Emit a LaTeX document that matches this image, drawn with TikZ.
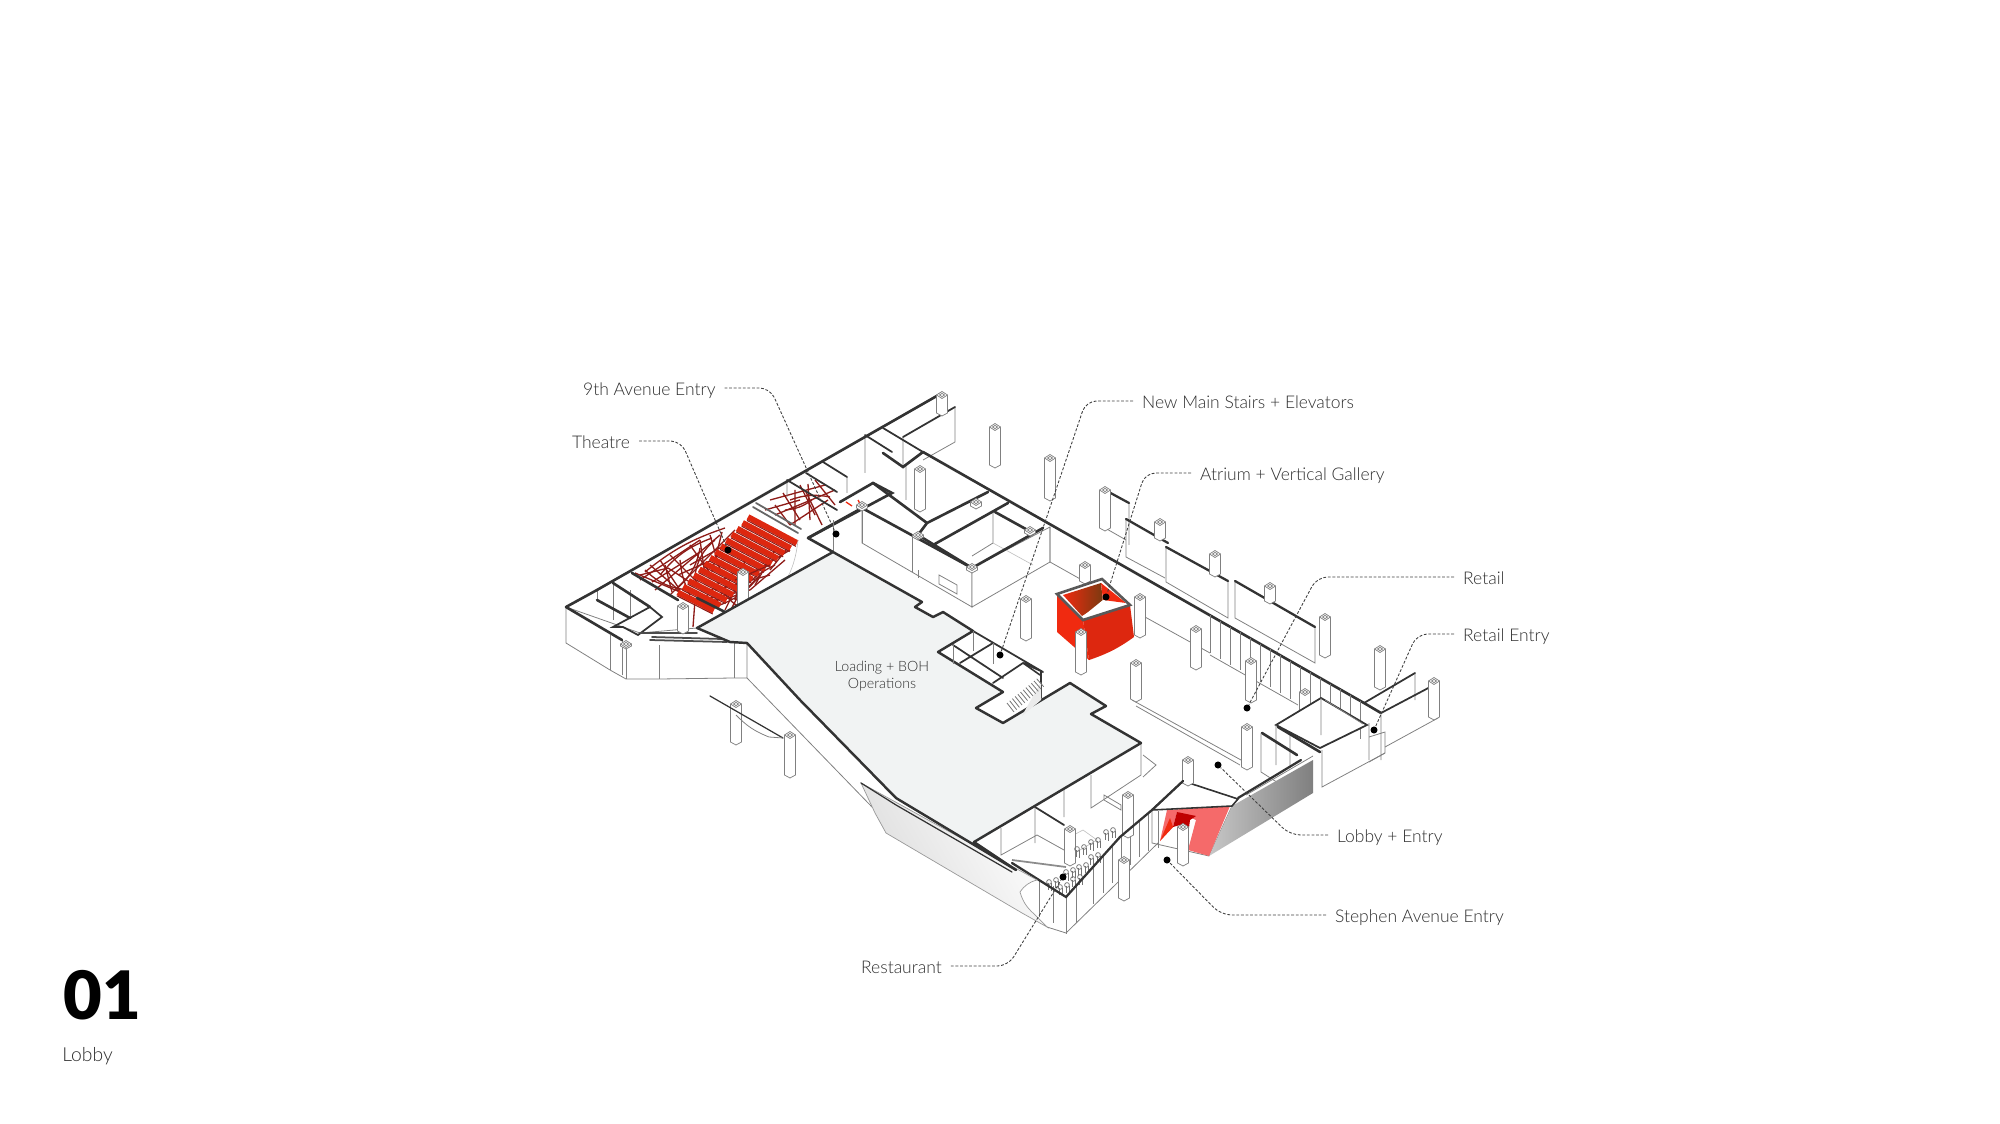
\documentclass[tikz,border=0pt]{standalone}
\usepackage{fontspec}
\setmainfont{Lato Light}
\newfontfamily\heavyfont{Lato Black}
\usetikzlibrary{calc, positioning}

\definecolor{plate}{HTML}{F1F3F3}
\definecolor{inktext}{HTML}{2E2E2E}
\definecolor{hotred}{HTML}{F02A10}
\definecolor{softred}{HTML}{F56A6A}
\definecolor{trussred}{HTML}{8E1C18}
\definecolor{atriumdark}{HTML}{7A3A10}

\tikzset{
	wall/.style={line width=1.5pt, color=black!80, line cap=round},
	midwall/.style={line width=1pt, color=black!80, line cap=round},
	thinwall/.style={line width=0.45pt, color=black!50},
	faintwall/.style={line width=0.35pt, color=black!25},
	truss/.style={line width=0.75pt, color=trussred},
	column/.style={line width=0.42pt, draw=black!50, fill=white},
	leader/.style={line width=0.5pt, color=black!75, dashed, dash pattern=on 1.6pt off 1pt, rounded corners=6pt},
	spot/.style={circle, fill=black, inner sep=0pt, minimum size=4pt},
	callout/.style={text=inktext, font=\fontsize{9.95}{12}\selectfont, inner xsep=5pt, inner ysep=0pt, text height=9pt, text depth=1pt},
}

\newcommand{\pillar}[3]{
	\filldraw[column] ({#1-5.5},{#2}) -- ({#1-5.5},{#2+#3}) -- ({#1},{#2+#3+3}) -- ({#1+5.5},{#2+#3}) -- ({#1+5.5},{#2}) -- ({#1},{#2-3.5}) -- cycle;
	\draw[column] ({#1-5.5},{#2}) -- ({#1},{#2+3.5}) -- ({#1+5.5},{#2});
	\draw[column] ({#1-2.5},{#2}) -- ({#1},{#2-1.6}) -- ({#1+2.5},{#2}) -- ({#1},{#2+1.6}) -- cycle;
}

\begin{document}
\begin{tikzpicture}[x=0.02cm, y=-0.02cm]

	\useasboundingbox (0,0) rectangle (2000,1124);

	% west block
	\filldraw[thinwall, fill=white] (566,607) -- (566,643) -- (610,670) -- (626,679) -- (659,679) -- (734,678) -- (747,678) -- (747,643) -- (697,628) -- (640,633) -- cycle;
	\draw[thinwall] (610,635) -- (610,670) (622,640) -- (622,675) (626,643) -- (626,679) (659,645) -- (659,679) (734,642) -- (734,678);
	\draw[thinwall] (747,678) -- (872,807);
	\draw[thinwall] (597,600) -- (597,590) (630,618) -- (630,590) (613,583) -- (613,620);
	\draw[wall] (566,607) -- (597,590);
	\draw[wall] (566,607) -- (622,640);
	\draw[wall] (597,600) -- (630,618);
	\draw[wall] (613,583) -- (650,607);
	\draw[midwall] (613,627) -- (650,607) -- (662,617) -- (638,635) -- (623,627) -- cycle;
	\draw[midwall, color=black!70] (640,633) -- (697,633) (650,640) -- (727,642) (652,637) -- (722,639);
	\pillar{626}{644}{2}

	% theatre trusses
	\draw[truss] (635,573) -- (680,592) (650,565) -- (690,600) (670,555) -- (700,585) (690,545) -- (715,580) (710,535) -- (720,570);
	\draw[truss] (640,580) -- (700,540) (655,590) -- (720,535) (670,595) -- (735,530) (645,572) to[bend left=10] (725,528) (660,560) -- (680,590);
	\draw[truss] (645,570) to[bend right=20] (690,590) (660,575) to[bend left=15] (712,538) (680,560) to[bend right=10] (690,595) (700,548) to[bend left=20] (675,590) (715,540) to[bend right=20] (695,575);
	\draw[truss] (640,575) -- (668,568) -- (702,590) (652,582) -- (700,552) (665,565) -- (672,592) (690,565) -- (725,545) (678,575) -- (712,560) (700,540) -- (705,575) (722,532) -- (712,572);
	\draw[truss] (693,627) -- (695,600) (710,612) -- (730,580) (725,610) -- (745,570) (700,600) -- (750,590) (715,590) -- (770,575);
	\draw[truss] (735,600) -- (745,560) (755,585) -- (775,550) (770,570) -- (790,545) (740,580) -- (790,550) (720,605) to[bend right=15] (760,575);
	\draw[truss] (700,605) to[bend left=15] (740,570) (712,600) to[bend right=25] (755,580) (730,612) to[bend left=20] (775,565) (722,590) to[bend right=15] (745,610);
	\draw[truss] (783,493) -- (800,520) (800,485) -- (815,515) (815,480) -- (835,505) (770,500) -- (825,485) (775,515) -- (835,490) (790,525) -- (828,500) (765,510) -- (800,500) (805,490) -- (822,525);
	\draw[truss] (790,500) to[bend left=15] (830,497) (785,510) to[bend right=15] (812,500) (795,490) -- (795,525) (808,484) -- (810,520) (775,505) -- (790,525);
	\draw[truss, color=hotred] (846,502) -- (852,506) (858,500) -- (860,504);
	\foreach \t in {0,1,...,13}{
		\pgfmathsetmacro{\sx}{748-\t*5.4}
		\pgfmathsetmacro{\sy}{517+\t*5.8}
		\pgfmathsetmacro{\ex}{797-\t*6.4}
		\pgfmathsetmacro{\ey}{543+\t*5.2}
		\draw[line width=3.3pt, color=hotred!92!black] (\sx,\sy) -- (\ex,\ey);
		\draw[line width=0.6pt, color=trussred] ({\sx-1},{\sy+3.4}) -- ({\ex-1},{\ey+3.4});
	}
	\draw[truss] (735,580) -- (770,565) (750,590) -- (785,560);
	\draw[midwall, color=black!60] (753,507) -- (798,533) (756,503) -- (801,529);
	\draw[faintwall] (798,540) to[bend left=25] (755,612);

	% north rooms
	\draw[thinwall] (865,435) -- (865,473) (847,477) -- (847,493) (787,480) -- (787,497) (906,465) -- (906,500) (955,407) -- (955,442) -- (923,460) (903,437) -- (903,465);
	\draw[wall] (597,590) -- (942,393);
	\draw[wall] (632,573) -- (678,600) (697,598) -- (727,613);
	\draw[midwall] (883,428) -- (923,452) (865,435) -- (892,452) (903,437) -- (955,407);
	\draw[midwall] (823,462) -- (847,477) (806,473) -- (837,492) (787,480) -- (837,510);
	\draw[wall] (808,538) -- (892,493) -- (873,483) -- (840,502);
	\draw[wall] (883,453) -- (903,467) -- (923,452);
	\filldraw[thinwall, fill=white] (862,508) -- (862,543) -- (972,607) -- (972,568) -- cycle;
	\draw[thinwall] (912,537) -- (912,572) (918,570) -- (918,578);
	\draw[thinwall] (939,575) -- (957,585) -- (957,594) -- (939,584) -- cycle;
	\filldraw[thinwall, fill=white] (972,568) -- (972,607) -- (1050,562) -- (1050,527) -- cycle;
	\draw[thinwall] (993,512) -- (993,543) -- (972,556);
	\draw[faintwall] (993,543) -- (1033,565);
	\draw[thinwall] (1050,527) -- (1050,562) -- (1082,580);
	\draw[wall] (873,483) -- (927,523) (918,535) -- (972,568) (927,523) -- (988,492) (933,545) -- (1008,503) (918,535) -- (927,523) (995,512) -- (1033,533);
	\draw[wall] (808,538) -- (862,508) -- (972,568) -- (1043,528);
	\draw[thinwall] (833,552) -- (833,520) (862,508) -- (862,543);
	\draw[wall] (833,552) -- (808,538);
	\draw[wall] (923,452) -- (1046,522) -- (1364,703) -- (1381,713);
	\pillar{862}{505}{3}
	\pillar{918}{535}{2}
	\pillar{972}{567}{3}
	\pillar{942}{395}{18}
	\pillar{976}{502}{4}
	\pillar{1030}{530}{3}

	% panels and corrugated wall
	\foreach \x in {1210,1220,...,1360}{
		\draw[thinwall] (\x,{522+.569*(\x-1046)}) -- ++(0,38);
	}
	\draw[thinwall] (1210,655) -- (1298,705);
	\draw[thinwall] (1145,617) -- (1210,653);
	\draw[thinwall] (1105,490) -- (1105,528) -- (1126,540) (1129,503) -- (1129,545);
	\draw[thinwall] (1126,519) -- (1126,557) -- (1165,578);
	\draw[wall, line width=1.3pt] (1105,490) -- (1129,503) (1126,519) -- (1168,543);
	\filldraw[thinwall, fill=white] (1166,547) -- (1166,582) -- (1228,618) -- (1228,581) -- cycle;
	\draw[wall, line width=1.3pt] (1166,547) -- (1228,581);
	\filldraw[thinwall, fill=white] (1235,581) -- (1235,618) -- (1315,663) -- (1315,627) -- cycle;
	\draw[wall, line width=1.3pt] (1235,581) -- (1315,627);

	% lobby frame
	\draw[thinwall] (1132,700) -- (1241,760) (1136,706) -- (1240,765) (1132,664) -- (1132,700);

	% columns
	\pillar{995}{427}{38}
	\pillar{1050}{458}{40}
	\pillar{920}{469}{40}
	\pillar{1026}{599}{39}
	\pillar{1160}{522}{16}
	\pillar{1215}{554}{20}
	\pillar{1270}{586}{15}
	\pillar{1325}{617}{38}
	\pillar{1380}{649}{38}
	\pillar{1085}{565}{16}
	\pillar{1140}{597}{38}
	\pillar{1196}{629}{38}
	\pillar{1136}{663}{36}
	\pillar{1251}{661}{39}
	\pillar{1305}{692}{30}
	\pillar{736}{704}{38}
	\pillar{790}{735}{40}
	\pillar{683}{606}{25}
	\pillar{743}{572}{32}
	\pillar{1105}{490}{38}
	\pillar{1247}{727}{40}

	% atrium box
	\fill[hotred] (1057,594) -- (1083,620) -- (1089,660) -- (1057,632) -- cycle;
	\fill[hotred!92!black] (1083,620) -- (1130,605) -- (1134,637) to[bend left=8] (1092,659) -- (1089,660) -- cycle;
	\shade[left color=hotred, right color=atriumdark] (1063,595) -- (1101,583) -- (1103,603) -- (1082,616) -- cycle;
	\fill[hotred] (1101,583) -- (1126,603) -- (1103,600) -- cycle;
	\fill[white] (1082,617) -- (1103,600) -- (1124,606) -- cycle;
	\draw[midwall, color=black!65, line width=1.5pt] (1057,594) -- (1102,579) -- (1130,605) -- (1083,620) -- cycle;
	\pillar{1081}{632}{40}

	% west wall stub
	\draw[midwall, line width=.7pt] (710,696) -- (783,738);
	\draw[thinwall] (736,715) to[bend right=12] (769,737) -- (783,738);

	% retail end
	\draw[thinwall] (1415,673) -- (1415,700) (1438,690) -- (1438,718) -- (1385,747);
	\draw[midwall] (1364,703) -- (1415,673) (1381,713) -- (1434,685);
	\pillar{1434}{681}{36}
	\draw[thinwall] (1369,723) -- (1369,760) (1369,737) -- (1385,732) -- (1385,753) -- (1369,762) (1381,713) -- (1381,760);
	\filldraw[midwall, fill=white] (1276,725) -- (1321,698) -- (1367,725) -- (1320,748) -- cycle;
	\draw[thinwall] (1321,698) -- (1321,735) (1276,725) -- (1276,765) (1290,735) -- (1290,768) (1325,700) -- (1363,724);
	\draw[wall] (1262,733) -- (1297,755) (1278,727) -- (1320,752);
	\draw[thinwall] (1261,733) -- (1261,772) -- (1297,795) (1322,750) -- (1322,787) -- (1385,753);

	% lobby entry
	\filldraw[thinwall, fill=white] (1183,781) -- (1152,810) -- (1152,843) -- (1209,856) -- (1232,806) -- (1238,799) -- cycle;
	\shade[left color=black!22, right color=black!50] (1232,806) -- (1313,760) -- (1313,793) -- (1209,856) -- cycle;
	\fill[softred] (1167,810) -- (1230,806) -- (1209,856) -- (1188,850) -- (1196,820) -- (1177,812) -- (1173,827) -- (1160,841) -- cycle;
	\fill[red!75!black] (1177,812) -- (1196,816) -- (1190,820) -- (1188,835) -- (1180,825) -- (1173,827) -- cycle;
	\fill[hotred] (1160,841) -- (1170,818) -- (1173,827) -- cycle;
	\draw[midwall, line width=.9pt] (1152,810) -- (1183,781) -- (1238,799) -- (1232,806) -- (1152,810);
	\draw[wall, line width=1.3pt] (1238,798) -- (1301,760);
	\draw[thinwall] (1246,795) -- (1313,756);
	\pillar{1183}{827}{36}

	% restaurant side
	\foreach \x/\y in {1039/880, 1053/886, 1066/897, 1076/886, 1093/867, 1103/856, 1112/846, 1121/837, 1130/828, 1139/820, 1148/814, 1158/811}{
		\draw[thinwall] (\x,\y) -- ({\x},{\y+37});
	}
	\draw[thinwall] (1047,927) -- (1066,933) -- (1158,843);
	\draw[thinwall] (1001,828) -- (1001,855) -- (1037,835) -- (1064,850) (1035,807) -- (1035,843) (1064,790) -- (1064,817);
	\draw[thinwall] (1141,743) -- (1141,775) -- (1091,808) -- (1091,775);
	\draw[thinwall] (1143,755) -- (1156,765) -- (1143,777) (1104,795) -- (1121,805) -- (1121,810) -- (1104,800) -- cycle;
	\draw[faintwall] (1064,840) -- (1083,830) -- (1097,840) -- (1068,857);
	\draw[midwall] (1035,807) -- (1064,825);
	\draw[thinwall, line width=1pt, color=black!45] (1012,860) -- (1066,867);
	\pillar{1188}{760}{23}
	\pillar{1128}{795}{40}
	\pillar{1070}{829}{34}
	\foreach \x/\y in {1081/850, 1095/843, 1110/833, 1095/858, 1083/868, 1053/883, 1064/888, 1070/873, 1077/880}{
		\draw[line width=0.4pt, color=black!55] ({\x-4},{\y-1}) circle (2.4) ({\x+3},{\y-3}) circle (2.4);
		\draw[line width=0.4pt, color=black!55] ({\x-5},{\y}) -- ({\x-5},{\y+7}) ({\x-2},{\y}) -- ({\x-2},{\y+8}) ({\x+2},{\y-2}) -- ({\x+2},{\y+5}) ({\x+5},{\y-2}) -- ({\x+5},{\y+5});
	}
	\draw[wall, line width=1.3pt] (1183,781) -- (1152,810) -- (1120,837) -- (1066,897) -- (1012,863);
	\pillar{1124}{860}{38}

	% curved facade
	\shade[top color=white, bottom color=black!14, shading angle=-60, draw=black!40, line width=0.4pt] (861,783) -- (1037,880) to[bend right=20] (1020,892) to[bend right=15] (1033,913) -- (1047,927) -- (1022,913) -- (886,833) -- (875,813) -- cycle;

	% loading plate
	\filldraw[wall, line width=1.4pt, fill=plate, line join=round] (697,628) -- (833,552) -- (922,602) -- (915,607) -- (933,617) -- (943,612) -- (973,631) -- (938,652) -- (1003,692) -- (976,708) -- (1003,723) -- (1070,683) -- (1106,706) -- (1091,714) -- (1141,743) -- (974,842) -- (1016,870) -- (896,798) -- (800,700) -- (747,643) -- (730,642) -- cycle;
	\draw[wall, line width=.7pt] (861,783) -- (896,805) -- (1012,872);

	% stairs room
	\draw[midwall] (973,631) -- (1043,672) (953,645) -- (1003,678) (960,663) -- (993,643) (993,683) -- (1023,663) (1023,663) -- (1043,672) (1041,672) -- (1041,698);
	\draw[thinwall] (953,645) -- (953,664) (973,631) -- (973,651) (993,643) -- (993,664);
	\fill[black!8] (1022,716) -- (1041,700) -- (1041,682) -- (1028,705) -- cycle;
	\foreach \s in {0,1,...,11}{
		\draw[line width=0.45pt, color=black!55] ({1007+\s*2.7},{703-\s*2.2}) -- ({1014+\s*2.7},{712-\s*2.3});
	}
	\draw[midwall, line width=.9pt] (1023,663) -- (1040,675);

	% callouts
	\node[callout, anchor=west] (entryNinth) at (574,388) {9th Avenue Entry};
	\node[callout, anchor=west] (theatre) at (563,441) {Theatre};
	\node[callout, anchor=west] (stairs) at (1133,401) {New Main Stairs + Elevators};
	\node[callout, anchor=west] (atrium) at (1191,473) {Atrium + Vertical Gallery};
	\node[callout, anchor=west] (retail) at (1454,577) {Retail};
	\node[callout, anchor=west] (entryRetail) at (1454,634) {Retail Entry};
	\node[callout, anchor=west] (lobbyEntry) at (1328,835) {Lobby + Entry};
	\node[callout, anchor=west] (entryStephen) at (1326,915) {Stephen Avenue Entry};
	\node[callout, anchor=west] (restaurant) at (852,966) {Restaurant};
	\node[text=inktext, font=\fontsize{8.1}{9.7}\selectfont, align=center] (loading) at (882,676) {Loading + BOH\\Operations};
	\node[font=\heavyfont\fontsize{38}{38}\selectfont, anchor=west, inner sep=0pt] (number) at (63,995) {01};
	\node[text=inktext, font=\fontsize{11}{12}\selectfont, anchor=west, inner sep=0pt] (room) at (62,1056) {Lobby};

	\node[spot] (spotNinth) at (836,534) {};
	\node[spot] (spotTheatre) at (728,550) {};
	\node[spot] (spotStairs) at (1000,655) {};
	\node[spot] (spotAtrium) at (1106,597) {};
	\node[spot] (spotRetail) at (1247,708) {};
	\node[spot] (spotEntryRetail) at (1374,730) {};
	\node[spot] (spotLobby) at (1218,765) {};
	\node[spot] (spotStephen) at (1167,860) {};
	\node[spot] (spotRestaurant) at (1063,877) {};

	\coordinate (bendNinth) at (770,388);
	\coordinate (bendTheatre) at (681,441);
	\coordinate (bendStairs) at (1086,401);
	\coordinate (bendAtrium) at (1145,473);
	\coordinate (bendRetail) at (1317,577);
	\coordinate (bendEntryRetail) at (1417,634);
	\coordinate (bendLobby) at (1290,835);
	\coordinate (bendStephen) at (1221,915);
	\coordinate (bendRestaurant) at (1008,966);

	\draw[leader] (entryNinth) -- (bendNinth) -- (spotNinth);
	\draw[leader] (theatre) -- (bendTheatre) -- (spotTheatre);
	\draw[leader] (stairs) -- (bendStairs) -- (spotStairs);
	\draw[leader] (atrium) -- (bendAtrium) -- (spotAtrium);
	\draw[leader] (retail) -- (bendRetail) -- (spotRetail);
	\draw[leader] (entryRetail) -- (bendEntryRetail) -- (spotEntryRetail);
	\draw[leader] (lobbyEntry) -- (bendLobby) -- (spotLobby);
	\draw[leader] (entryStephen) -- (bendStephen) -- (spotStephen);
	\draw[leader] (restaurant) -- (bendRestaurant) -- (spotRestaurant);

\end{tikzpicture}
\end{document}
